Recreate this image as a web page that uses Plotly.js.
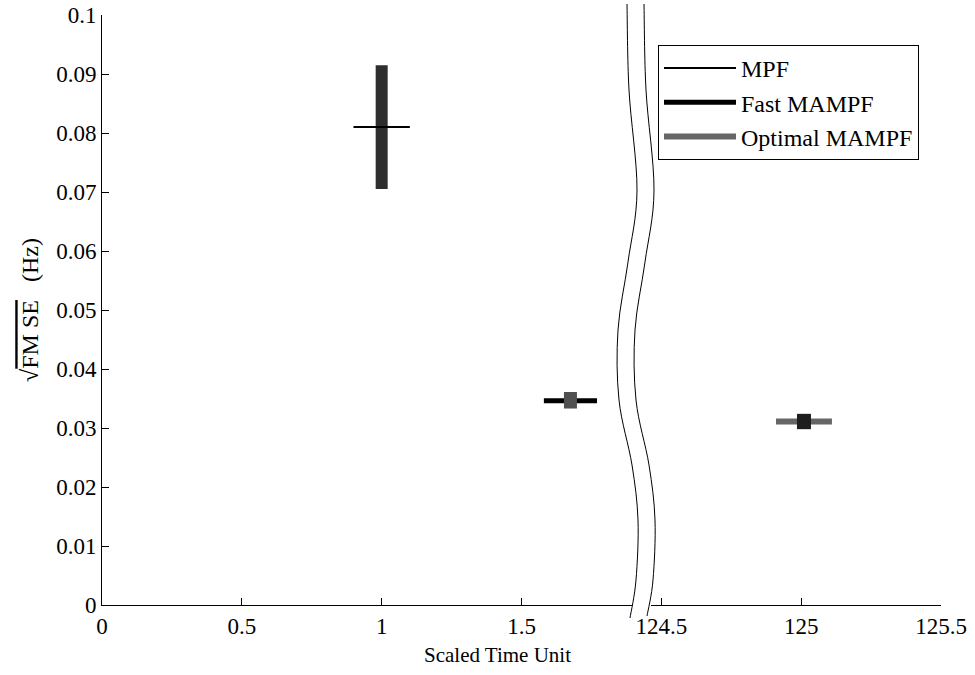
<!DOCTYPE html>
<html>
<head>
<meta charset="utf-8">
<script src="https://cdn.plot.ly/plotly-3.0.1.min.js"></script>
<style>
  html, body { margin: 0; padding: 0; background: #fff; }
  #chart { width: 975px; height: 675px; }
</style>
</head>
<body>
<div id="chart"></div>
<script>
// Error spread (vertical) and time spread (horizontal) of each filter
const mpfTime = [0.9, 1.1];
const mpfTimeCenter = [1, 1];
const mpfErr = [0.081, 0.081];
const mpfErrRange = [0.0705, 0.0915];

const fastTime = [1.58, 1.77];
const fastTimeCenter = [1.675, 1.675];
const fastErr = [0.0346, 0.0346];
const fastErrRange = [0.0333, 0.0361];

const optTime = [124.91, 125.11];
const optTimeCenter = [125.01, 125.01];
const optErr = [0.0311, 0.0311];
const optErrRange = [0.0298, 0.0324];

const leftTicks = [0, 0.5, 1, 1.5];
const rightTicks = [124.5, 125, 125.5];
const yTicks = [0, 0.01, 0.02, 0.03, 0.04, 0.05, 0.06, 0.07, 0.08, 0.09, 0.1];
const yTickText = ['0', '0.01', '0.02', '0.03', '0.04', '0.05', '0.06', '0.07', '0.08', '0.09', '0.1'];

const FONT = '"Liberation Serif", "Times New Roman", Times, serif';

// plot area in pixels
const PX0 = 102, PX1 = 941, PY0 = 605, PY1 = 15;
const toPaperX = px => (px - PX0) / (PX1 - PX0);
const toPaperY = py => (PY0 - py) / (PY0 - PY1);

// axis break: wavy double line (pixel guide points of the left stroke)
const waveLeft = [[627, 4], [629, 90], [637, 190], [628, 262], [618, 330], [619, 400], [632, 465], [638, 520], [636, 580], [630, 618]];
const gap = 17;

function catmull(points) {
  let d = `M${points[0][0]},${points[0][1]}`;
  for (let i = 0; i < points.length - 1; i++) {
    const p0 = points[Math.max(i - 1, 0)], p1 = points[i], p2 = points[i + 1], p3 = points[Math.min(i + 2, points.length - 1)];
    const c1 = [p1[0] + (p2[0] - p0[0]) / 6, p1[1] + (p2[1] - p0[1]) / 6];
    const c2 = [p2[0] - (p3[0] - p1[0]) / 6, p2[1] - (p3[1] - p1[1]) / 6];
    d += ` C${c1[0]},${c1[1]} ${c2[0]},${c2[1]} ${p2[0]},${p2[1]}`;
  }
  return d;
}
function toPaperPath(points) {
  return points.map(p => [toPaperX(p[0]), toPaperY(p[1])]);
}
const leftPts = toPaperPath(waveLeft);
const rightPts = toPaperPath(waveLeft.map((p, i) => [p[0] + gap, p[1] - (i === waveLeft.length - 1 ? 2 : 0)]));
const fillPath = catmull(leftPts) + ' L' + catmull(rightPts.slice().reverse()).slice(1) + ' Z';

const traces = [
  { x: mpfTime, y: mpfErr, xaxis: 'x', yaxis: 'y', mode: 'lines', name: 'MPF',
    line: { color: '#000', width: 2 } },
  { x: fastTime, y: fastErr, xaxis: 'x', yaxis: 'y', mode: 'lines', name: 'Fast MAMPF',
    line: { color: '#000', width: 5 } },
  { x: optTime, y: optErr, xaxis: 'x2', yaxis: 'y', mode: 'lines', name: 'Optimal MAMPF',
    line: { color: '#666', width: 6 } },
  { x: mpfTimeCenter, y: mpfErrRange, xaxis: 'x', yaxis: 'y', mode: 'lines', showlegend: false,
    line: { color: '#2e2e2e', width: 12 } },
  { x: fastTimeCenter, y: fastErrRange, xaxis: 'x', yaxis: 'y', mode: 'lines', showlegend: false,
    line: { color: '#505050', width: 13 } },
  { x: optTimeCenter, y: optErrRange, xaxis: 'x2', yaxis: 'y', mode: 'lines', showlegend: false,
    line: { color: '#1e1e1e', width: 14 } }
];
// MPF cross bar drawn again on top of its vertical band
traces.push(Object.assign({}, traces[0], { showlegend: false }));

const unitPx = (PX1 - PX0) / 3;
const leftEndPx = 636, rightStartPx = 651;

const axisCommon = {
  showline: true, linecolor: '#000', linewidth: 1,
  ticks: 'inside', ticklen: 7, tickwidth: 1, tickcolor: '#000',
  showgrid: false, zeroline: false,
  tickfont: { family: FONT, size: 23, color: '#000' },
  fixedrange: true
};

const layout = {
  width: 975, height: 675,
  margin: { l: PX0, r: 975 - PX1, t: PY1, b: 675 - PY0 },
  paper_bgcolor: '#fff', plot_bgcolor: '#fff',
  font: { family: FONT, size: 23, color: '#000' },
  showlegend: true,
  legend: {
    x: toPaperX(658), y: toPaperY(45), xanchor: 'left', yanchor: 'top',
    bgcolor: '#fff', bordercolor: '#000', borderwidth: 1,
    font: { family: FONT, size: 24, color: '#000' },
    itemwidth: 72, tracegroupgap: 0
  },
  xaxis: Object.assign({}, axisCommon, {
    domain: [0, toPaperX(leftEndPx)],
    range: [0, (leftEndPx - PX0) / unitPx],
    tickmode: 'array', tickvals: leftTicks, ticktext: leftTicks.map(String),
    anchor: 'y'
  }),
  xaxis2: Object.assign({}, axisCommon, {
    domain: [toPaperX(rightStartPx), 1],
    range: [125.5 - (PX1 - rightStartPx) / unitPx, 125.5],
    tickmode: 'array', tickvals: rightTicks, ticktext: rightTicks.map(String),
    anchor: 'y'
  }),
  yaxis: Object.assign({}, axisCommon, {
    range: [0, 0.1],
    tickmode: 'array', tickvals: yTicks, ticktext: yTickText,
    anchor: 'x',
    title: { text: '√<span style="text-decoration:overline">FM\u00a0SE</span>\u00a0\u00a0\u00a0(Hz)', font: { family: FONT, size: 24, color: '#000' }, standoff: 10 }
  }),
  annotations: [{
    xref: 'paper', yref: 'paper', x: toPaperX(497), y: toPaperY(655),
    xanchor: 'center', yanchor: 'middle', showarrow: false,
    text: 'Scaled Time Unit', font: { family: FONT, size: 21, color: '#000' }
  }],
  shapes: [
    { type: 'path', xref: 'paper', yref: 'paper', path: fillPath, fillcolor: '#fff', line: { width: 0 }, layer: 'above' },
    { type: 'path', xref: 'paper', yref: 'paper', path: catmull(leftPts), line: { color: '#000', width: 1 }, layer: 'above' },
    { type: 'path', xref: 'paper', yref: 'paper', path: catmull(rightPts), line: { color: '#000', width: 1 }, layer: 'above' }
  ]
};

Plotly.newPlot('chart', traces, layout, { displayModeBar: false, staticPlot: true });
</script>
</body>
</html>
